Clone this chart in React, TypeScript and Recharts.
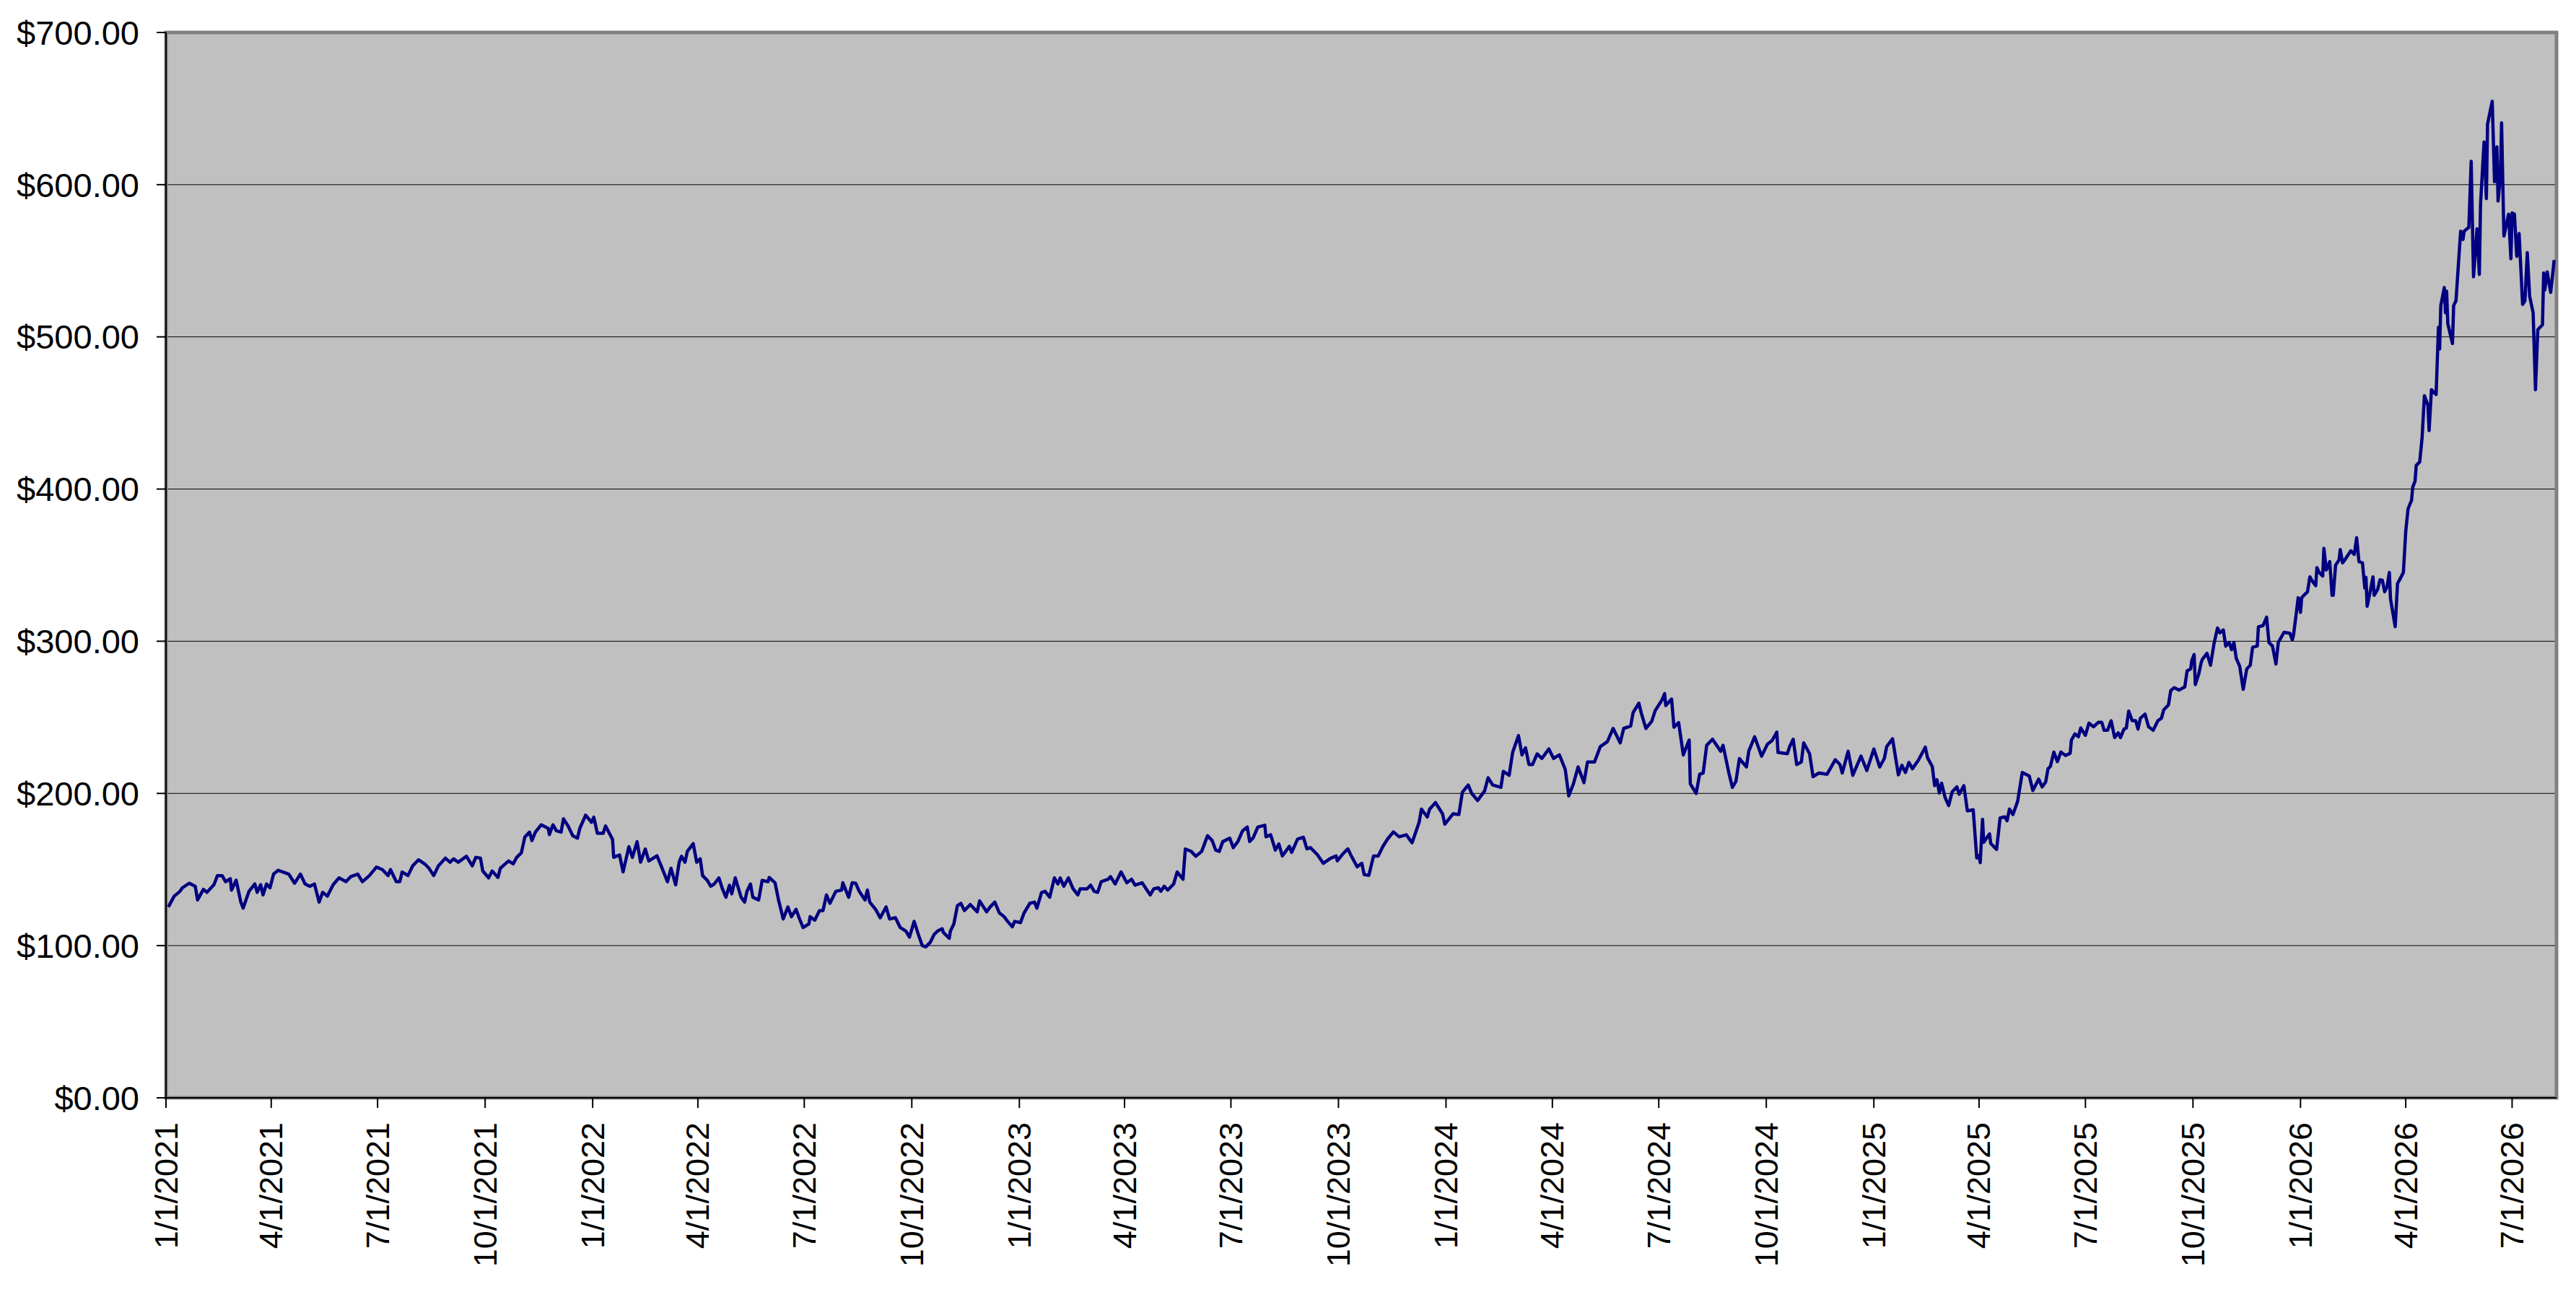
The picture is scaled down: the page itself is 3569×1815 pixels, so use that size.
import {
  CartesianGrid,
  Line,
  LineChart,
  ReferenceArea,
  XAxis,
  YAxis,
} from "recharts";

const DAY_MS = 86400000;
const START = Date.UTC(2021, 0, 1);
const END = START + 2045 * DAY_MS;

const quarterLabels = [
  "1/1/2021", "4/1/2021", "7/1/2021", "10/1/2021",
  "1/1/2022", "4/1/2022", "7/1/2022", "10/1/2022",
  "1/1/2023", "4/1/2023", "7/1/2023", "10/1/2023",
  "1/1/2024", "4/1/2024", "7/1/2024", "10/1/2024",
  "1/1/2025", "4/1/2025", "7/1/2025", "10/1/2025",
  "1/1/2026", "4/1/2026", "7/1/2026",
];

const priceTicks = [0, 100, 200, 300, 400, 500, 600, 700];

// days since 1/1/2021
const dayOffsets = [
  2, 7, 12, 14, 20, 25, 27, 32, 35, 41,
  44, 48, 51, 55, 56, 60, 64, 66, 71, 76,
  78, 81, 83, 86, 89, 92, 96, 100, 105, 110,
  115, 119, 123, 127, 131, 134, 138, 143, 148, 154,
  158, 164, 168, 174, 180, 185, 190, 192, 197, 200,
  202, 207, 211, 216, 222, 225, 229, 233, 239, 243,
  246, 250, 257, 262, 265, 269, 271, 276, 279, 284,
  286, 293, 297, 300, 304, 307, 311, 313, 316, 321,
  327, 328, 331, 334, 338, 340, 344, 348, 352, 354,
  359, 364, 366, 369, 374, 376, 382, 383, 388, 391,
  396, 399, 403, 406, 410, 413, 420, 424, 429, 432,
  436, 439, 441, 444, 446, 451, 454, 457, 459, 463,
  466, 469, 473, 476, 479, 482, 484, 487, 492, 495,
  497, 500, 502, 507, 510, 515, 516, 521, 524, 528,
  532, 535, 539, 542, 545, 550, 551, 555, 559, 562,
  565, 568, 573, 578, 579, 584, 587, 590, 593, 598,
  600, 602, 607, 611, 616, 619, 624, 628, 633, 636,
  640, 644, 647, 650, 654, 657, 660, 664, 665, 670,
  671, 674, 677, 680, 683, 688, 694, 696, 702, 705,
  709, 713, 717, 720, 724, 726, 731, 734, 739, 743,
  745, 749, 752, 756, 760, 763, 765, 768, 772, 776,
  780, 782, 788, 791, 794, 797, 800, 806, 808, 812,
  817, 822, 826, 829, 835, 842, 845, 849, 851, 854,
  857, 862, 865, 870, 872, 877, 881, 886, 891, 895,
  898, 901, 904, 910, 913, 917, 921, 925, 927, 930,
  934, 940, 941, 945, 949, 952, 955, 961, 963, 968,
  973, 976, 979, 985, 990, 996, 1001, 1002, 1007, 1011,
  1014, 1019, 1023, 1025, 1029, 1033, 1037, 1041, 1045, 1050,
  1055, 1061, 1066, 1072, 1074, 1079, 1081, 1086, 1092, 1094,
  1101, 1106, 1109, 1114, 1117, 1122, 1128, 1131, 1135, 1142,
  1144, 1149, 1152, 1157, 1160, 1163, 1166, 1169, 1173, 1177,
  1183, 1187, 1192, 1197, 1200, 1204, 1208, 1213, 1216, 1222,
  1227, 1233, 1238, 1244, 1247, 1253, 1255, 1260, 1262, 1266,
  1271, 1274, 1280, 1282, 1283, 1288, 1290, 1294, 1298, 1303,
  1304, 1309, 1312, 1315, 1318, 1323, 1330, 1332, 1337, 1340,
  1343, 1346, 1352, 1354, 1359, 1365, 1370, 1374, 1378, 1379,
  1387, 1389, 1392, 1395, 1399, 1401, 1406, 1409, 1414, 1421,
  1428, 1432, 1434, 1439, 1443, 1450, 1455, 1461, 1466, 1470,
  1472, 1477, 1482, 1485, 1488, 1491, 1494, 1499, 1505, 1507,
  1511, 1513, 1515, 1517, 1519, 1522, 1525, 1528, 1532, 1534,
  1538, 1541, 1546, 1549, 1551, 1552, 1554, 1555, 1560, 1561,
  1566, 1569, 1573, 1575, 1577, 1580, 1584, 1588, 1594, 1597,
  1602, 1605, 1608, 1610, 1612, 1615, 1618, 1621, 1625, 1629,
  1630, 1633, 1636, 1638, 1642, 1645, 1649, 1653, 1656, 1658,
  1661, 1664, 1667, 1670, 1672, 1675, 1677, 1679, 1682, 1685,
  1687, 1689, 1693, 1696, 1700, 1704, 1707, 1709, 1713, 1715,
  1718, 1722, 1727, 1729, 1732, 1733, 1735, 1736, 1739, 1741,
  1742, 1746, 1749, 1752, 1755, 1757, 1760, 1762, 1765, 1767,
  1769, 1771, 1774, 1777, 1780, 1783, 1785, 1789, 1790, 1794,
  1797, 1799, 1802, 1805, 1807, 1812, 1817, 1819, 1820, 1822,
  1824, 1826, 1827, 1830, 1832, 1834, 1836, 1839, 1840, 1842,
  1845, 1846, 1848, 1851, 1853, 1854, 1856, 1859, 1860, 1862,
  1865, 1869, 1872, 1874, 1876, 1879, 1881, 1882, 1883, 1886,
  1888, 1889, 1892, 1894, 1896, 1898, 1900, 1902, 1903, 1907,
  1909, 1911, 1914, 1916, 1918, 1921, 1922, 1924, 1925, 1928,
  1930, 1932, 1935, 1936, 1938, 1942, 1944, 1945, 1946, 1949,
  1950, 1951, 1952, 1956, 1957, 1959, 1963, 1965, 1966, 1970,
  1972, 1974, 1977, 1979, 1980, 1983, 1985, 1986, 1990, 1992,
  1994, 1995, 1997, 1998, 2000, 2004, 2006, 2007, 2009, 2011,
  2013, 2016, 2018, 2020, 2022, 2025, 2027, 2029, 2033, 2034,
  2035, 2037, 2040, 2043,
];

const closePrices = [
  125.4, 132.5, 135.7, 138, 141, 139, 130, 137, 135, 140,
  146, 146, 142, 144, 136.5, 143, 128.6, 124.6, 135.7, 140.5,
  135, 140, 133.3, 140.5, 138, 147, 149.5, 148.4, 147, 141,
  147, 140.5, 139, 140.5, 128.6, 135, 132.5, 140, 144.5, 142,
  145.3, 147, 142, 146, 151.6, 150, 146, 150, 142, 142,
  148.4, 146, 152.4, 156.4, 153.2, 150.8, 146, 152.4, 157.5, 154.8,
  157, 154.8, 158.7, 152.4, 158, 157.5, 149, 144.5, 149, 144.8,
  150.8, 155.6, 153.7, 158, 161, 171.4, 174.6, 169, 174.6, 179.4,
  177, 173, 179.4, 175.4, 174.6, 183.3, 178.6, 172.2, 170.6, 177,
  185.7, 181, 184.4, 173.8, 173.8, 178.6, 169.8, 158, 159.6, 148.4,
  165, 158, 168.3, 154.8, 163.5, 155.6, 159, 151.6, 142, 150.8,
  140, 154.8, 158.7, 154.8, 161.9, 167, 154.8, 157, 146, 142.9,
  139, 140.5, 144.5, 137.3, 131.8, 139.7, 134, 144.5, 131.8, 128.6,
  135.7, 140.5, 131.8, 130, 142.9, 142, 144.8, 141.3, 130, 117.5,
  125.4, 119, 123.8, 117.5, 111.9, 114.3, 119, 116.7, 123, 123,
  133.3, 127.8, 135.7, 136.5, 141.3, 131.8, 141.3, 141, 135.7, 130,
  136.5, 128.6, 123.8, 118.3, 125.4, 117.5, 118.3, 112, 109.5, 105.6,
  115.9, 106.4, 100, 99.2, 102.4, 107.2, 109.5, 111.1, 108.7, 104.8,
  109.5, 114.3, 126.2, 127.8, 123, 127, 122.2, 129.4, 122.2, 125.4,
  128.6, 121.4, 119, 115.9, 112.4, 115.9, 115.1, 121.4, 127.8, 128.6,
  124.6, 134.9, 135.7, 131.8, 144.5, 140.5, 144.5, 139, 144.5, 137.3,
  133.3, 137.3, 137.3, 139.7, 135.7, 135, 142, 143.6, 145.3, 140.5,
  148.4, 141.3, 143.6, 139.7, 141.3, 133.3, 137.3, 138, 135.7, 139,
  136.5, 140.5, 148.4, 143.6, 163.5, 161.9, 158.7, 161.9, 172.2, 169,
  162.7, 161.9, 168.3, 170.6, 164.4, 168.4, 175.5, 177.9, 168.4, 170.8,
  177.9, 179.1, 171.5, 172.8, 162.8, 166.8, 158.9, 165.2, 161.3, 170,
  171.2, 163.6, 164.4, 159.7, 154.1, 157.3, 158.9, 155.7, 160.5, 163.6,
  158.9, 151.8, 154.1, 146.6, 146.2, 158.9, 158.9, 165.2, 170, 174.7,
  171.5, 172.8, 167.6, 181, 189.7, 184.5, 189.7, 194, 186.6, 179.8,
  186.6, 186.1, 200.8, 205.5, 200, 195.3, 201.6, 210.3, 205.5, 204,
  214.5, 211.9, 226.9, 238, 225.3, 230, 219, 219, 226, 223,
  229.2, 223, 225.3, 215.8, 198.4, 206.3, 217.4, 207.1, 220.6, 220.6,
  230.8, 234, 242.7, 233.2, 242.7, 244.3, 253, 259.3, 253, 242.7,
  247.4, 254.5, 261.7, 265.6, 257.7, 262, 243.5, 246.6, 225.3, 235.1,
  206.3, 200, 212.6, 213.4, 231.6, 235.6, 227.7, 231.6, 213.4, 204,
  207.9, 222.9, 217.4, 227.7, 237.2, 224.5, 232.4, 234.8, 240.3, 226.9,
  226.1, 230.8, 235.6, 219, 220.6, 233.2, 226.1, 211, 213.4, 212.6,
  222.1, 219, 213.4, 227.7, 211.9, 224.5, 215, 229.2, 217.4, 223,
  230.8, 235.9, 212.2, 218.5, 213.8, 220.4, 216.2, 221.7, 230.4, 223.3,
  217.7, 205.1, 209, 200.3, 206.7, 197.2, 192, 201.1, 204.3, 199.5,
  205.1, 188.5, 189.3, 157.6, 159.2, 154.5, 183, 167.9, 173.4, 167.2,
  163.2, 183.9, 184.6, 182.1, 189.7, 186.1, 194.8, 213.8, 211.4, 201.9,
  209.4, 204.3, 207.5, 216.2, 217.7, 227.2, 220.9, 227.2, 224.9, 226.4,
  235.1, 239.1, 237.2, 243, 238.2, 246.2, 243.8, 246.7, 246.7, 241.5,
  241.5, 247.8, 236.7, 239.8, 236.7, 242.3, 243, 254.1, 247.8, 247.8,
  242.3, 249.4, 252.1, 243.8, 241.5, 247.8, 249.4, 254.9, 258.1, 267.6,
  269.5, 267.9, 270, 280.5, 281.8, 287.3, 291.3, 271.5, 278.6, 285.8,
  288.1, 292.1, 284.2, 298.4, 308.7, 305.5, 307.4, 296.8, 299.2, 294.5,
  299.2, 288.9, 283.4, 268.4, 281.8, 284.2, 296, 296.8, 309.5, 310.3,
  315.8, 299.2, 296.8, 285, 299.2, 305.9, 305.2, 300.8, 304, 316,
  328.6, 319, 328.6, 331, 332.5, 342.3, 339.6, 336.5, 348.3, 345.2,
  342.8, 361, 346.8, 352.3, 330.2, 330.2, 350, 353.4, 360.2, 351.5,
  354.7, 359.4, 357, 368, 352.3, 351.5, 334.9, 342, 323, 334.1,
  342.3, 330.2, 334.1, 340.4, 340.1, 332.5, 335.7, 345.2, 327.8, 309.6,
  338, 340.7, 345.2, 372, 387, 392.6, 401.3, 405.2, 415.5, 417.9,
  433.7, 461.3, 455, 438.4, 465.3, 462.1, 506.3, 492, 520.5, 532.4,
  515.8, 530, 508.7, 495.6, 520.5, 523.7, 569.5, 564, 569.5, 572,
  615.3, 539.5, 571, 541, 586.9, 628, 590.8, 639.8, 654.8, 601.9,
  624.8, 589.3, 605.8, 640.6, 566.3, 580.6, 551.3, 581.4, 580.6, 552.9,
  567.9, 521.3, 523.7, 555.3, 526.8, 515.8, 465.3, 504.7, 507.9, 541.9,
  530.8, 542.7, 529.2, 550.5,
];

const FONT = "'Liberation Sans', Arial, Helvetica, sans-serif";

const toUtc = (label: string) => {
  const [m, d, y] = label.split("/").map(Number);
  return Date.UTC(y, m - 1, d);
};

const quarterTicks = quarterLabels.map(toUtc);
const labelByTime = new Map(quarterTicks.map((t, i) => [t, quarterLabels[i]]));

const chartData = dayOffsets.map((d, i) => ({
  t: START + d * DAY_MS,
  price: closePrices[i],
}));

function DateTick({ x, y, payload }: any) {
  return (
    <g transform={`translate(${x},${y})`}>
      <text
        transform="rotate(-90)"
        textAnchor="end"
        dominantBaseline="central"
        fontSize={45}
        fontFamily={FONT}
        fill="#000"
      >
        {labelByTime.get(payload.value)}
      </text>
    </g>
  );
}

export default function App() {
  return (
    <div
      style={{
        position: "absolute",
        left: 0,
        top: 0,
        width: 3569,
        height: 1815,
        background: "#fff",
      }}
    >
      <LineChart
        width={3569}
        height={1815}
        data={chartData}
        margin={{ top: 45, right: 27, left: 0, bottom: 0 }}
      >
        <CartesianGrid
          vertical={false}
          fill="#C0C0C0"
          stroke="#000"
          strokeWidth={1}
        />
        <XAxis
          dataKey="t"
          type="number"
          domain={[START, END]}
          ticks={quarterTicks}
          interval={0}
          allowDataOverflow
          height={294}
          tickSize={14}
          tickMargin={20}
          tick={<DateTick />}
          axisLine={{ stroke: "#000", strokeWidth: 2 }}
          tickLine={{ stroke: "#000", strokeWidth: 2 }}
        />
        <YAxis
          type="number"
          domain={[0, 700]}
          ticks={priceTicks}
          interval={0}
          width={230}
          tickSize={13}
          tickMargin={24}
          tickFormatter={(v: number) => `$${v.toFixed(2)}`}
          tick={{ fontSize: 47, fill: "#000", fontFamily: FONT }}
          axisLine={{ stroke: "#000", strokeWidth: 2 }}
          tickLine={{ stroke: "#000", strokeWidth: 2 }}
        />
        <ReferenceArea
          x1={START}
          x2={END}
          y1={0}
          y2={700}
          fill="none"
          stroke="#808080"
          strokeWidth={5}
        />
        <Line
          type="linear"
          dataKey="price"
          stroke="#000080"
          strokeWidth={4.5}
          strokeLinejoin="round"
          dot={false}
          activeDot={false}
          isAnimationActive={false}
        />
      </LineChart>
    </div>
  );
}
